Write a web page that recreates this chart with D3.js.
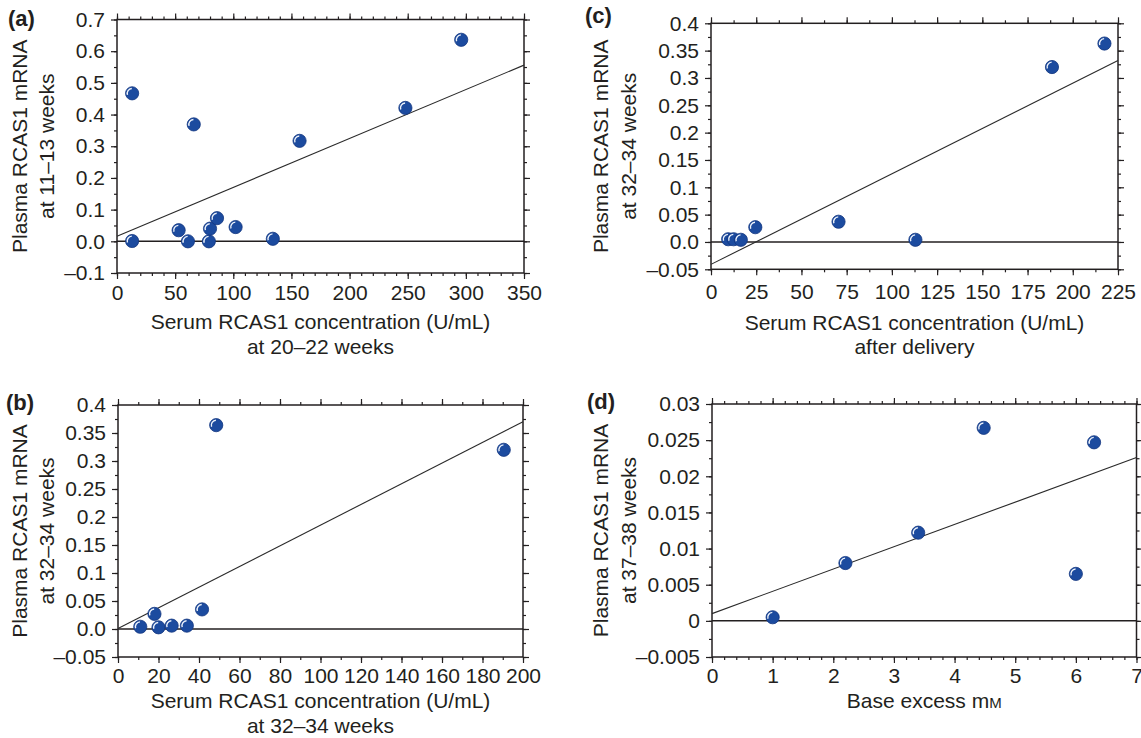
<!DOCTYPE html>
<html><head><meta charset="utf-8">
<script src="https://cdn.jsdelivr.net/npm/d3@7"></script>
<style>
body{margin:0;background:#fff}
svg{display:block}
text{font-family:"Liberation Sans",Arial,Helvetica,sans-serif;fill:#231f20}
</style>
</head><body>
<svg id="chart" width="1141" height="738"></svg>
<script>
// ---------- DATA ----------
// Panel (a)
const aX = [13, 13, 53, 61, 66, 79, 80, 86, 102, 134, 157, 248, 296];
const aY = [0.467, 0.001, 0.035, 0.0, 0.369, 0.0, 0.040, 0.073, 0.045, 0.008, 0.317, 0.421, 0.636];
const aFit = [[0, 0.016], [350, 0.556]];
const aXTicks = [0, 50, 100, 150, 200, 250, 300, 350];
const aYTicks = [-0.1, 0, 0.1, 0.2, 0.3, 0.4, 0.5, 0.6, 0.7];
const aYLabels = ["\u20130.1", "0.0", "0.1", "0.2", "0.3", "0.4", "0.5", "0.6", "0.7"];
// Panel (b)
const bX = [11, 18, 20, 26.5, 34, 41.5, 48.5, 190.5];
const bY = [0.004, 0.027, 0.003, 0.006, 0.006, 0.035, 0.364, 0.320];
const bFit = [[0, 0.001], [200, 0.370]];
const bXTicks = [0, 20, 40, 60, 80, 100, 120, 140, 160, 180, 200];
const bYTicks = [-0.05, 0, 0.05, 0.1, 0.15, 0.2, 0.25, 0.3, 0.35, 0.4];
const bYLabels = ["\u20130.05", "0.0", "0.05", "0.1", "0.15", "0.2", "0.25", "0.3", "0.35", "0.4"];
// Panel (c)
const cX = [9.5, 12.5, 16.5, 24.5, 70.5, 113, 188.5, 217.5];
const cY = [0.005, 0.005, 0.004, 0.027, 0.037, 0.004, 0.320, 0.363];
const cFit = [[0, -0.041], [225, 0.332]];
const cXTicks = [0, 25, 50, 75, 100, 125, 150, 175, 200, 225];
const cYTicks = [-0.05, 0, 0.05, 0.1, 0.15, 0.2, 0.25, 0.3, 0.35, 0.4];
const cYLabels = ["\u20130.05", "0.0", "0.05", "0.1", "0.15", "0.2", "0.25", "0.3", "0.35", "0.4"];
// Panel (d)
const dX = [1.0, 2.2, 3.4, 4.48, 6.0, 6.3];
const dY = [0.0005, 0.008, 0.0122, 0.0267, 0.0065, 0.0247];
const dFit = [[0, 0.001], [7, 0.0226]];
const dXTicks = [0, 1, 2, 3, 4, 5, 6, 7];
const dYTicks = [-0.005, 0, 0.005, 0.01, 0.015, 0.02, 0.025, 0.03];
const dYLabels = ["\u20130.005", "0", "0.005", "0.01", "0.015", "0.02", "0.025", "0.03"];

// ---------- LAYOUT ----------
const panels = [
  {tag:"(a)", xs:aX, ys:aY, fit:aFit, xd:[0,350], yd:[-0.1,0.7], xt:aXTicks, xm:10, yt:aYTicks, yl:aYLabels, ym:0.05,
   L:117, R:524, T:19.5, B:273, pad:6, yTx:[27,54], xTy:[329,354], tagX:8, tagY:26,
   xTitle:["Serum RCAS1 concentration (U/mL)", "at 20\u201322 weeks"], yTitle:["Plasma RCAS1 mRNA", "at 11\u201313 weeks"]},
  {tag:"(b)", xs:bX, ys:bY, fit:bFit, xd:[0,200], yd:[-0.05,0.4], xt:bXTicks, xm:10, yt:bYTicks, yl:bYLabels, ym:0.025,
   L:118, R:523, T:405, B:657, pad:5.5, yTx:[27,54], xTy:[708,732.5], tagX:6, tagY:409.5,
   xTitle:["Serum RCAS1 concentration (U/mL)", "at 32\u201334 weeks"], yTitle:["Plasma RCAS1 mRNA", "at 32\u201334 weeks"]},
  {tag:"(c)", xs:cX, ys:cY, fit:cFit, xd:[0,225], yd:[-0.05,0.4], xt:cXTicks, xm:12.5, yt:cYTicks, yl:cYLabels, ym:0.025,
   L:711, R:1118, T:23.3, B:269.3, pad:9, yTx:[608,635.5], xTy:[330,354], tagX:585, tagY:23,
   xTitle:["Serum RCAS1 concentration (U/mL)", "after delivery"], yTitle:["Plasma RCAS1 mRNA", "at 32\u201334 weeks"]},
  {tag:"(d)", xs:dX, ys:dY, fit:dFit, xd:[0,7], yd:[-0.005,0.03], xt:dXTicks, xm:0.2, yt:dYTicks, yl:dYLabels, ym:0.0025,
   L:712, R:1136.5, T:404, B:657, pad:5.5, yTx:[608,635.5], xTy:[708], tagX:587, tagY:409,
   xTitle:["Base excess m"], mm:true, yTitle:["Plasma RCAS1 mRNA", "at 37\u201338 weeks"]}
];

const svg = d3.select("#chart");
const INK = "#231f20";

function minorVals(domain, step){
  const out = [];
  const n = Math.round((domain[1]-domain[0])/step);
  for (let i=0;i<=n;i++) out.push(+(domain[0]+i*step).toFixed(6));
  return out;
}

panels.forEach(p => {
  const x = d3.scaleLinear().domain(p.xd).range([p.L, p.R]);
  const y = d3.scaleLinear().domain(p.yd).range([p.B, p.T]);
  const g = svg.append("g");

  const style = sel => {
    sel.select(".domain").remove();
    sel.selectAll(".tick line").attr("stroke", INK).attr("stroke-width", 1.2);
    sel.selectAll(".tick text").attr("font-size", 21).attr("fill", INK);
  };
  const xMin = minorVals(p.xd, p.xm), yMin = minorVals(p.yd, p.ym);

  // minor ticks
  g.append("g").attr("transform",`translate(0,${p.B})`).call(d3.axisBottom(x).tickValues(xMin).tickSize(3).tickFormat("")).call(style);
  g.append("g").attr("transform",`translate(0,${p.T})`).call(d3.axisTop(x).tickValues(xMin).tickSize(3).tickFormat("")).call(style);
  g.append("g").attr("transform",`translate(${p.L},0)`).call(d3.axisLeft(y).tickValues(yMin).tickSize(3).tickFormat("")).call(style);
  g.append("g").attr("transform",`translate(${p.R},0)`).call(d3.axisRight(y).tickValues(yMin).tickSize(3).tickFormat("")).call(style);
  // major ticks
  g.append("g").attr("transform",`translate(0,${p.B})`).call(d3.axisBottom(x).tickValues(p.xt).tickSize(6).tickPadding(p.pad).tickFormat(d3.format("~g"))).call(style);
  g.append("g").attr("transform",`translate(0,${p.T})`).call(d3.axisTop(x).tickValues(p.xt).tickSize(6).tickFormat("")).call(style);
  g.append("g").attr("transform",`translate(${p.L},0)`).call(d3.axisLeft(y).tickValues(p.yt).tickSize(6).tickPadding(6).tickFormat((d,i)=>p.yl[i])).call(style);
  g.append("g").attr("transform",`translate(${p.R},0)`).call(d3.axisRight(y).tickValues(p.yt).tickSize(6).tickFormat("")).call(style);

  // frame
  g.append("rect").attr("x",p.L).attr("y",p.T).attr("width",p.R-p.L).attr("height",p.B-p.T)
    .attr("fill","none").attr("stroke",INK).attr("stroke-width",1.5);

  // zero line
  g.append("line").attr("x1",p.L).attr("x2",p.R).attr("y1",y(0)).attr("y2",y(0))
    .attr("stroke",INK).attr("stroke-width",1.5);

  // regression line
  g.append("path").datum(p.fit)
    .attr("d", d3.line().x(d=>x(d[0])).y(d=>y(d[1])))
    .attr("fill","none").attr("stroke","#2a2a2a").attr("stroke-width",1.1);

  // points
  const pts = g.selectAll("g.pt").data(d3.zip(p.xs, p.ys)).join("g")
    .attr("class","pt").attr("transform", d=>`translate(${x(d[0])},${y(d[1])})`);
  pts.append("circle").attr("r",6.6).attr("fill","#1c4b9f").attr("stroke","#12357f").attr("stroke-width",0.8);
  pts.append("path")
    .attr("d", d3.arc()({innerRadius:4.2, outerRadius:5.6, startAngle:-Math.PI*0.6, endAngle:-Math.PI*0.02}))
    .attr("fill","#eef3fb");

  // panel tag
  g.append("text").attr("x",p.tagX).attr("y",p.tagY).attr("font-size",22).attr("font-weight","bold").text(p.tag);

  // x title
  const cx = (p.L+p.R)/2;
  p.xTitle.forEach((t,i) => {
    const tx = g.append("text").attr("x",cx).attr("y",p.xTy[i]).attr("text-anchor","middle").attr("font-size",21).text(t);
    if (p.mm) tx.append("tspan").attr("font-size",15).text("M");
  });
  // y title
  const cy = (p.T+p.B)/2;
  p.yTitle.forEach((t,i) => {
    g.append("text").attr("transform",`translate(${p.yTx[i]},${cy}) rotate(-90)`)
      .attr("text-anchor","middle").attr("font-size",21).text(t);
  });
});
</script>
</body></html>
